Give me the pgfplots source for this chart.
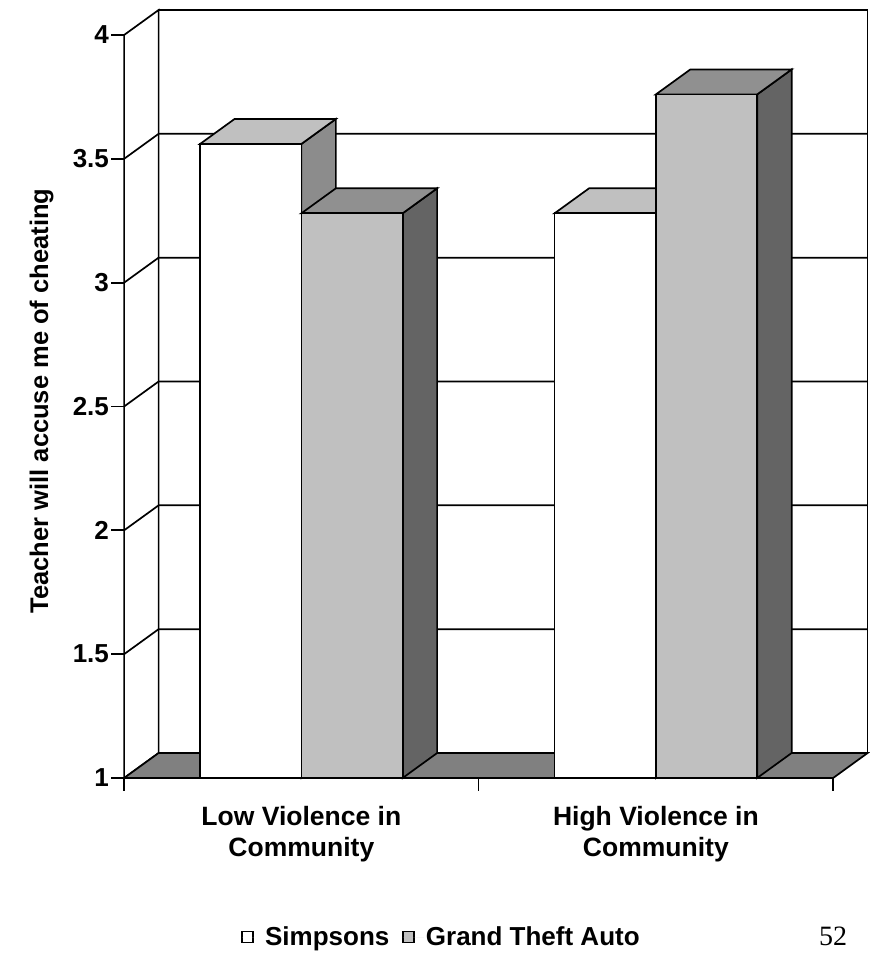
\documentclass[border=0pt]{standalone}
\usepackage{pgfplots}
\pgfplotsset{compat=1.18}
\usepackage{pgfplotstable}
\usepackage{fontspec}
\setmainfont{Liberation Sans}
\newfontfamily\timesfont{Liberation Serif}

\definecolor{sfront}{HTML}{FFFFFF}
\definecolor{stop}{HTML}{C0C0C0}
\definecolor{sside}{HTML}{8C8C8C}
\definecolor{gfront}{HTML}{C0C0C0}
\definecolor{gtop}{HTML}{909090}
\definecolor{gside}{HTML}{646464}
\definecolor{floorc}{HTML}{808080}

% values: group, Simpsons, Grand Theft Auto
\pgfplotstableread{
group simpsons gta
0 3.56 3.28
1 3.28 3.76
}\datatable

\def\dx{0.0973}
\def\dy{0.1009}
\pgfplotsset{face/.style={draw=black, line width=1.7pt, forget plot}}

\newcommand\barthreed[6]{%
  \pgfmathsetmacro\xa{#1}%
  \pgfmathsetmacro\xb{#2}%
  \pgfmathsetmacro\xc{#2+\dx}%
  \pgfmathsetmacro\xd{#1+\dx}%
  \pgfmathsetmacro\yt{#3}%
  \pgfmathsetmacro\ytb{#3+\dy}%
  \pgfmathsetmacro\ybb{1+\dy}%
  \addplot[face, fill=#6] coordinates {(\xb,1) (\xc,\ybb) (\xc,\ytb) (\xb,\yt)} --cycle;
  \addplot[face, fill=#5] coordinates {(\xa,\yt) (\xb,\yt) (\xc,\ytb) (\xd,\ytb)} --cycle;
  \addplot[face, fill=#4] coordinates {(\xa,1) (\xb,1) (\xb,\yt) (\xa,\yt)} --cycle;
}

\begin{document}
\pgfplotstablegetelem{0}{simpsons}\of\datatable\edef\vLS{\pgfplotsretval}
\pgfplotstablegetelem{0}{gta}\of\datatable\edef\vLG{\pgfplotsretval}
\pgfplotstablegetelem{1}{simpsons}\of\datatable\edef\vHS{\pgfplotsretval}
\pgfplotstablegetelem{1}{gta}\of\datatable\edef\vHG{\pgfplotsretval}
\begin{tikzpicture}
\path[use as bounding box] (0pt,0pt) rectangle (858pt,953pt);
\begin{axis}[
  at={(113pt,175pt)}, anchor=south west,
  scale only axis, width=743.5pt, height=768pt,
  xmin=0, xmax=2.0973, ymin=1, ymax=4.1009,
  clip=false,
  axis line style={draw=none},
  xtick={0.5,1.5},
  xticklabels={{Low Violence in\\Community},{High Violence in\\Community}},
  x tick style={draw=none},
  ytick={1,1.5,2,2.5,3,3.5,4},
  y tick style={black, line width=1.7pt},
  major tick length=13pt,
  tick align=outside,
  xtick pos=left, ytick pos=left,
  /pgf/number format/assume math mode=true,
  yticklabel style={font=\fontsize{26}{30}\selectfont\bfseries, inner sep=2pt},
  xticklabel style={font=\fontsize{26.5}{31}\selectfont\bfseries, align=center, anchor=north, inner sep=0pt, yshift=-15pt},
  ylabel={Teacher will accuse me of cheating},
  every axis y label/.style={at={(axis description cs:-0.111,0.4909)}, rotate=90, anchor=center, inner sep=0pt, font=\fontsize{25.5}{30}\selectfont\bfseries},
  legend columns=2,
  legend image code/.code={\draw[#1, line width=1.2pt] (0pt,-5.5pt) rectangle (11pt,5.5pt); \path[draw=none] (0pt,0pt) -- (21pt,0pt);},
  legend style={at={(axis description cs:0.427,0)}, anchor=center, yshift=-159pt,
    draw=none, fill=none, font=\fontsize{26}{30}\selectfont\bfseries,
    /tikz/every even column/.append style={column sep=11pt}},
]
\addlegendimage{fill=white, draw=black}
\addlegendentry{Simpsons}
\addlegendimage{fill=gfront, draw=black}
\addlegendentry{Grand Theft Auto}

% back wall
\addplot[face, fill=white] coordinates {(0.0973,1.1009) (2.0973,1.1009) (2.0973,4.1009) (0.0973,4.1009)} --cycle;
% left wall
\addplot[face, fill=white] coordinates {(0,1) (0.0973,1.1009) (0.0973,4.1009) (0,4)} --cycle;
% gridlines (left wall diagonal + back wall)
\addplot[face] coordinates {(0,1.5) (0.0973,1.6009) (2.0973,1.6009)};
\addplot[face] coordinates {(0,2) (0.0973,2.1009) (2.0973,2.1009)};
\addplot[face] coordinates {(0,2.5) (0.0973,2.6009) (2.0973,2.6009)};
\addplot[face] coordinates {(0,3) (0.0973,3.1009) (2.0973,3.1009)};
\addplot[face] coordinates {(0,3.5) (0.0973,3.6009) (2.0973,3.6009)};
% floor
\addplot[face, fill=floorc] coordinates {(0,1) (2,1) (2.0973,1.1009) (0.0973,1.1009)} --cycle;
% x ticks
\addplot[face] coordinates {(0,1) (0,0.9475)};
\addplot[face] coordinates {(1,1) (1,0.9475)};
\addplot[face] coordinates {(2,1) (2,0.9475)};

% bars
\barthreed{0.2143}{0.5}{\vLS}{sfront}{stop}{sside}
\barthreed{0.5}{0.7857}{\vLG}{gfront}{gtop}{gside}
\barthreed{1.2143}{1.5}{\vHS}{sfront}{stop}{sside}
\barthreed{1.5}{1.7857}{\vHG}{gfront}{gtop}{gside}
\end{axis}
\node[font=\timesfont\fontsize{28}{30}\selectfont, anchor=base] at (822pt,7pt) {52};
\end{tikzpicture}
\end{document}
